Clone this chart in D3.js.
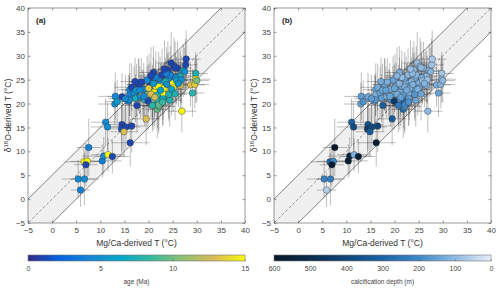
<!DOCTYPE html>
<html>
<head>
<meta charset="utf-8">
<script src="https://cdn.jsdelivr.net/npm/d3@7"></script>
<style>
  body { margin: 0; background: #fff; }
  svg { font-family: "Liberation Sans", Arial, sans-serif; }
  .axis path { display: none; }
  .axis line { stroke: #555; stroke-width: 0.6; }
  .axis text { fill: #444; font-size: 8px; }
</style>
</head>
<body>
<div class="chart"></div>
<script>
// Mg/Ca-derived T, d18O-derived T, age (Ma), calcification depth (m), errors
const mgcaT = [5.9, 5.4, 6.7, 6.6, 7.3, 7.0, 7.6, 10.4, 10.7, 11.6, 12.5, 11.1, 11.5, 14.5, 14.4, 15.3, 14.9, 16.5, 16.2, 19.5, 26.9,
  13.1, 13.0, 13.5, 14.5, 15.8, 16.1, 16.5, 16.1, 17.0, 17.6, 17.3, 17.9, 18.3, 18.7, 19.2, 19.7, 20.1, 20.3, 20.8, 21.1,
  21.2, 21.5, 21.8, 21.8, 22.1, 22.4, 22.7, 23.0, 23.5, 23.9, 24.2, 24.4, 24.7, 25.0, 25.1, 25.3, 26.0, 26.3, 26.6, 27.2,
  27.5, 27.7, 27.8, 26.6, 28.7, 29.1, 29.6, 29.8, 29.8, 30.0, 25.5, 25.6, 24.2, 23.5, 22.1, 19.7, 18.0, 22.1, 23.2, 21.8,
  24.2, 20.8, 22.1, 16.0, 19.9, 21.0, 20.5, 23.8, 22.8, 24.5, 19.0, 18.5, 21.5, 25.8, 23.0, 20.0, 22.5, 26.8, 17.5, 15.2,
  24.0, 21.0, 19.0, 20.5, 22.9, 23.7, 18.2, 21.3, 24.8, 26.2, 20.8, 23.3, 17.2, 25.5];
const d18oT = [1.9, 4.2, 4.2, 7.8, 7.9, 7.2, 10.8, 8.0, 9.0, 9.3, 8.9, 16.1, 15.1, 15.6, 14.7, 15.1, 14.1, 15.3, 11.8, 16.8, 18.4,
  21.5, 19.9, 20.4, 21.4, 20.5, 22.9, 23.4, 21.9, 22.2, 19.6, 21.1, 24.0, 21.5, 22.2, 20.8, 21.9, 24.9, 23.6, 22.6, 20.5,
  22.4, 23.6, 20.8, 18.8, 19.4, 24.3, 23.5, 22.1, 23.5, 25.0, 22.9, 20.7, 28.5, 24.3, 23.3, 27.8, 27.4, 25.8, 25.7, 26.9,
  26.7, 28.1, 29.3, 23.8, 23.9, 22.2, 24.0, 26.3, 25.1, 24.8, 27.5, 25.4, 25.3, 24.6, 25.3, 24.9, 23.9, 23.5, 23.2, 21.8,
  21.9, 20.8, 19.7, 20.8, 20.5, 24.2, 22.0, 24.0, 26.0, 26.0, 23.0, 24.5, 25.5, 24.8, 21.0, 23.2, 22.8, 25.0, 22.8, 21.0,
  27.0, 26.5, 21.5, 25.8, 20.3, 26.3, 22.8, 21.3, 23.0, 24.2, 19.6, 27.2, 24.6, 22.0];
const ageMa = [4, 4.5, 4.8, 14.5, 15, 1, 4, 4, 4.5, 15, 1, 4.5, 4.8, 1, 1.2, 1, 13, 1, 1, 13, 14.8,
  4.5, 4.5, 5.5, 1, 4.5, 4.5, 1, 4, 4.5, 1, 7, 1, 4.5, 13, 7.5, 9.5, 1, 1, 4.5, 7.5,
  15, 15, 7.5, 9.5, 9.5, 4.5, 15, 15, 4.5, 4.5, 13, 7.5, 1, 15, 15, 1, 1, 4.5, 7.5, 7,
  5, 1, 1, 13, 13, 8, 13.5, 7.5, 15, 10, 1, 4.5, 4.5, 7.5, 4.5, 4.5, 1, 15, 15, 7.5,
  7.5, 9.5, 9.5, 4.5, 1, 5.5, 13, 5, 1, 4, 4, 1, 4, 6, 6.5, 13.5, 6, 5, 5.5, 4.5,
  1, 1, 4.5, 1, 8.5, 4, 4.5, 12.5, 6, 5, 8, 1, 1, 7.5];
const calcDepth = [60, 220, 230, 300, 200, 580, 600, 580, 550, 120, 560, 320, 380, 370, 450, 380, 330, 400, 570, 330, 100,
  160, 150, 180, 140, 170, 150, 130, 120, 150, 320, 160, 140, 130, 160, 180, 150, 130, 110, 140, 300,
  120, 140, 280, 280, 160, 120, 110, 130, 150, 100, 160, 140, 90, 120, 140, 100, 110, 120, 100, 90,
  110, 80, 70, 120, 130, 150, 110, 80, 90, 100, 100, 120, 130, 110, 140, 150, 140, 120, 130, 160,
  170, 190, 200, 170, 450, 110, 130, 120, 100, 110, 130, 120, 90, 100, 150, 140, 130, 90, 140, 160,
  100, 120, 140, 110, 180, 100, 150, 150, 120, 110, 240, 90, 130, 140];
const mgcaErr = [2.0, 3.5, 3.0, 4.0, 3.5, 2.5, 2.5, 4.0, 4.5, 3.5, 3.5, 3.0, 3.5, 3.0, 2.5, 3.0, 3.0, 3.0, 4.0, 3.0, 3.0,
  3.5, 3.5, 2.5, 3.0, 3.0, 2.5, 3.5, 3.0, 2.5, 3.0, 3.0, 2.5, 3.0, 2.5, 3.0, 2.5, 3.0, 2.5, 3.0, 2.5,
  3.0, 2.5, 3.0, 2.5, 3.5, 2.5, 3.0, 2.5, 3.0, 2.5, 3.0, 2.5, 3.0, 2.5, 3.0, 2.5, 3.0, 2.5, 3.0, 2.5,
  3.0, 2.5, 3.0, 2.5, 3.0, 2.5, 3.0, 2.5, 3.0, 2.5, 2.5, 3.0, 2.5, 3.0, 2.5, 3.0, 2.5, 3.0, 2.5, 3.0,
  2.5, 3.0, 2.5, 3.5, 2.5, 2.5, 3.0, 2.5, 3.0, 2.5, 3.0, 2.5, 3.0, 2.5, 3.0, 2.5, 3.0, 2.5, 3.0, 3.5,
  2.5, 3.0, 3.0, 2.5, 3.0, 2.5, 3.0, 2.5, 3.0, 2.5, 3.0, 2.5, 3.0, 2.5];
const d18oErr = [3.5, 4.0, 5.5, 3.5, 3.5, 4.5, 6.0, 3.5, 4.0, 3.5, 3.5, 5.0, 5.0, 5.5, 5.0, 4.5, 5.0, 5.5, 5.0, 5.5, 4.5,
  5.0, 4.5, 4.5, 5.0, 5.5, 5.5, 5.0, 4.5, 5.5, 5.5, 5.0, 5.5, 4.5, 5.0, 5.5, 6.0, 5.5, 5.0, 5.5, 6.0,
  5.0, 5.5, 6.0, 6.0, 5.0, 5.5, 5.0, 5.5, 5.0, 5.5, 6.0, 5.5, 6.5, 5.0, 5.0, 6.0, 5.5, 5.0, 5.5, 5.5,
  5.0, 5.5, 6.0, 5.0, 4.5, 5.0, 5.0, 4.5, 5.0, 4.5, 5.5, 5.0, 5.5, 5.0, 5.5, 5.0, 5.5, 5.0, 5.5, 5.0,
  5.5, 5.5, 6.0, 5.0, 6.0, 5.5, 5.0, 5.0, 5.5, 6.0, 5.5, 5.0, 5.5, 5.0, 5.5, 5.0, 5.5, 5.0, 5.5, 5.0,
  6.0, 5.5, 5.5, 6.0, 5.0, 5.5, 5.0, 6.0, 5.5, 5.0, 5.5, 6.0, 5.0, 5.5];

const axisTicks = [-5, 0, 5, 10, 15, 20, 25, 30, 35, 40];
const ageTicks = [0, 5, 10, 15];
const depthTicks = [600, 500, 400, 300, 200, 100, 0];

const parula = ['#352a87', '#0363e1', '#1485d4', '#06a7c6', '#38b99e', '#92bf73', '#d9ba56', '#f9fb0e'];
const blues = ['#06182a', '#0b2c4c', '#10457a', '#1a63a6', '#3f88c7', '#8db9e1', '#e8eff7'];

const points = mgcaT.map((x, i) => ({
  x: x, y: d18oT[i], age: ageMa[i], depth: calcDepth[i], xe: mgcaErr[i], ye: d18oErr[i]
}));

const svg = d3.select('.chart').append('svg')
  .attr('width', 500)
  .attr('height', 289);

const defs = svg.append('defs');

const ageColor = d3.scaleLinear()
  .domain(parula.map((c, i) => 15 * i / (parula.length - 1)))
  .range(parula).interpolate(d3.interpolateRgb);
const depthColor = d3.scaleLinear()
  .domain(blues.map((c, i) => 600 - 600 * i / (blues.length - 1)))
  .range(blues).interpolate(d3.interpolateRgb);

const panels = [
  {left: 28, tag: '(a)', color: d => ageColor(d.age), cbDomain: [0, 15], cbTicks: ageTicks,
    stops: parula, cbLabel: 'age (Ma)', id: 'gradA'},
  {left: 274, tag: '(b)', color: d => depthColor(d.depth), cbDomain: [600, 0], cbTicks: depthTicks,
    stops: blues, cbLabel: 'calcification depth (m)', id: 'gradB'}
];

const plotTop = 8, w = 217, h = 215;

panels.forEach(p => {
  const x = d3.scaleLinear().domain([-5, 40]).range([0, w]);
  const y = d3.scaleLinear().domain([-5, 40]).range([h, 0]);

  const g = svg.append('g')
    .attr('transform', 'translate(' + p.left + ', ' + plotTop + ')');

  const clipId = 'clip' + p.id;
  defs.append('clipPath').attr('id', clipId)
    .append('rect').attr('width', w).attr('height', h);

  const plot = g.append('g').attr('clip-path', 'url(#' + clipId + ')');

  // shaded +/- 5 band
  const band = [[-5, 0], [35, 40], [40, 40], [40, 35], [0, -5], [-5, -5]];
  plot.append('path')
    .attr('d', d3.line().x(d => x(d[0])).y(d => y(d[1]))(band) + 'Z')
    .style('fill', '#f0f0f0');

  [[5, null], [-5, null], [0, '3,2']].forEach(([off, dash]) => {
    plot.append('line')
      .attr('x1', x(-10)).attr('y1', y(-10 + off))
      .attr('x2', x(45)).attr('y2', y(45 + off))
      .style('stroke', dash ? '#555' : '#333')
      .style('stroke-width', 0.6)
      .style('stroke-dasharray', dash);
  });

  // error bars
  const eb = plot.append('g')
    .style('stroke', 'rgba(20,20,20,0.3)')
    .style('stroke-width', 0.9);
  eb.selectAll('.vbar').data(points).enter().append('line')
    .attr('x1', d => x(d.x)).attr('x2', d => x(d.x))
    .attr('y1', d => y(d.y - d.ye)).attr('y2', d => y(d.y + d.ye));
  eb.selectAll('.hbar').data(points).enter().append('line')
    .attr('x1', d => x(d.x - d.xe)).attr('x2', d => x(d.x + d.xe))
    .attr('y1', d => y(d.y)).attr('y2', d => y(d.y));

  plot.selectAll('.dot').data(points).enter().append('circle')
    .attr('cx', d => x(d.x))
    .attr('cy', d => y(d.y))
    .attr('r', 3.3)
    .style('fill', p.color)
    .style('stroke', '#333')
    .style('stroke-width', 0.4);

  // axes, box with inward ticks
  g.append('g').attr('class', 'axis')
    .attr('transform', 'translate(0, ' + h + ')')
    .call(d3.axisBottom(x).tickValues(axisTicks).tickSizeInner(-2.5).tickSizeOuter(0).tickPadding(4));
  g.append('g').attr('class', 'axis')
    .call(d3.axisTop(x).tickValues(axisTicks).tickSizeInner(-2.5).tickSizeOuter(0).tickFormat(''));
  g.append('g').attr('class', 'axis')
    .call(d3.axisLeft(y).tickValues(axisTicks).tickSizeInner(-2.5).tickSizeOuter(0).tickPadding(3));
  g.append('g').attr('class', 'axis')
    .attr('transform', 'translate(' + w + ', 0)')
    .call(d3.axisRight(y).tickValues(axisTicks).tickSizeInner(-2.5).tickSizeOuter(0).tickFormat(''));

  g.append('rect')
    .attr('width', w).attr('height', h)
    .style('fill', 'none').style('stroke', '#555').style('stroke-width', 0.6);

  g.append('text')
    .attr('x', 8).attr('y', 15)
    .style('font-size', '8px').style('font-weight', 'bold').style('fill', '#222')
    .text(p.tag);

  g.append('text')
    .attr('x', w / 2).attr('y', h + 23)
    .attr('text-anchor', 'middle')
    .style('font-size', '8.5px').style('fill', '#333')
    .text('Mg/Ca-derived T (°C)');

  const yl = g.append('text')
    .attr('transform', 'translate(-17, ' + (h / 2) + ') rotate(-90)')
    .attr('text-anchor', 'middle')
    .style('font-size', '8.5px').style('fill', '#333');
  yl.append('tspan').text('δ');
  yl.append('tspan').attr('dy', -3).style('font-size', '6px').text('18');
  yl.append('tspan').attr('dy', 3).text('O-derived T (°C)');

  // colorbar
  const cb = svg.append('g')
    .attr('transform', 'translate(' + p.left + ', 255)');
  const grad = defs.append('linearGradient').attr('id', p.id);
  p.stops.forEach((c, i) => {
    grad.append('stop')
      .attr('offset', (100 * i / (p.stops.length - 1)) + '%')
      .attr('stop-color', c);
  });
  const cx = d3.scaleLinear().domain(p.cbDomain).range([0, w]);
  cb.append('rect')
    .attr('width', w).attr('height', 6)
    .style('fill', 'url(#' + p.id + ')')
    .style('stroke', '#777').style('stroke-width', 0.6);
  const cAxis = cb.append('g').attr('class', 'axis')
    .attr('transform', 'translate(0, 6)')
    .call(d3.axisBottom(cx).tickValues(p.cbTicks).tickSizeInner(-1.5).tickSizeOuter(0).tickPadding(5));
  cAxis.selectAll('text').style('font-size', '7px');
  cb.append('text')
    .attr('x', w / 2).attr('y', 29)
    .attr('text-anchor', 'middle')
    .style('font-size', '6.5px').style('fill', '#444')
    .text(p.cbLabel);
});
</script>
</body>
</html>
